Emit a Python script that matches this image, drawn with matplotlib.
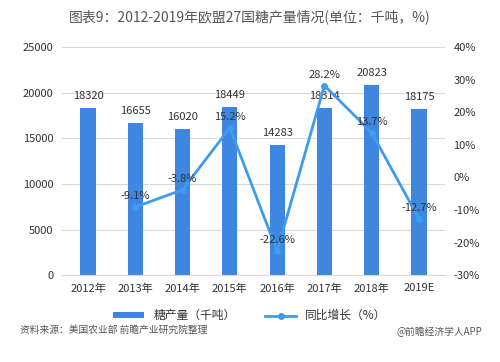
import numpy as np
import matplotlib
matplotlib.use("Agg")
import matplotlib.pyplot as plt
from matplotlib.ticker import FuncFormatter

plt.rcParams['font.family'] = ['Noto Sans CJK SC', 'DejaVu Sans']

years = ["2012年", "2013年", "2014年", "2015年", "2016年", "2017年", "2018年", "2019E"]
output = [18320, 16655, 16020, 18449, 14283, 18314, 20823, 18175]
growth = [np.nan, -9.1, -3.8, 15.2, -22.6, 28.2, 13.7, -12.7]

bar_color = "#3f86e0"
line_color = "#3d9ced"
text_color = "#333333"

fig = plt.figure(figsize=(5, 3.62), dpi=100)
ax = fig.add_axes([0.124, 0.240, 0.766, 0.630])
ax2 = ax.twinx()

x = np.arange(len(years))
ax.bar(x, output, width=0.32, color=bar_color, zorder=2, label="糖产量（千吨）")
for xi, v in zip(x, output):
    ax.annotate(str(v), (xi, v), xytext=(0, 5), textcoords="offset points",
                ha="center", va="bottom", fontsize=8, color=text_color)

ax.set_ylim(0, 25000)
ax.set_yticks(range(0, 25001, 5000))
ax.set_xlim(-0.55, len(years) - 0.45)
ax.set_xticks(x)
ax.set_xticklabels(years)
ax.grid(axis="y", color="#d9d9d9", linewidth=0.8, zorder=0)
ax.set_axisbelow(True)

ax2.plot(x, growth, color=line_color, linewidth=2, marker="o", markersize=4,
         zorder=3, label="同比增长（%）")
for xi, v in zip(x, growth):
    if np.isnan(v):
        continue
    ax2.annotate(f"{v:.1f}%", (xi, v), xytext=(0, 4), textcoords="offset points",
                 ha="center", va="bottom", fontsize=8, color=text_color)
ax2.set_ylim(-30, 40)
ax2.set_yticks(range(-30, 41, 10))
ax2.yaxis.set_major_formatter(FuncFormatter(lambda v, p: f"{int(v)}%"))

for a in (ax, ax2):
    for s in a.spines.values():
        s.set_visible(False)
    a.tick_params(length=0, labelsize=8, colors=text_color, pad=6)
ax.spines["bottom"].set_visible(True)
ax.spines["bottom"].set_color("#d9d9d9")

fig.text(0.5, 0.955, "图表9：2012-2019年欧盟27国糖产量情况(单位：千吨，%)",
         ha="center", va="center", fontsize=10, color="#555555")

h1, l1 = ax.get_legend_handles_labels()
h2, l2 = ax2.get_legend_handles_labels()
fig.legend(h1 + h2, l1 + l2, loc="center", bbox_to_anchor=(0.5, 0.128), ncol=2,
           frameon=False, fontsize=8.5, handlelength=2.6, handleheight=0.4,
           columnspacing=2.5, labelcolor=text_color)

fig.text(0.04, 0.088, "资料来源：美国农业部 前瞻产业研究院整理", fontsize=7,
         style="italic", color="#555555", va="center")
fig.text(0.965, 0.082, "@前瞻经济学人APP", fontsize=7, color="#555555",
         ha="right", va="center")

fig.savefig("out.png", dpi=100)
